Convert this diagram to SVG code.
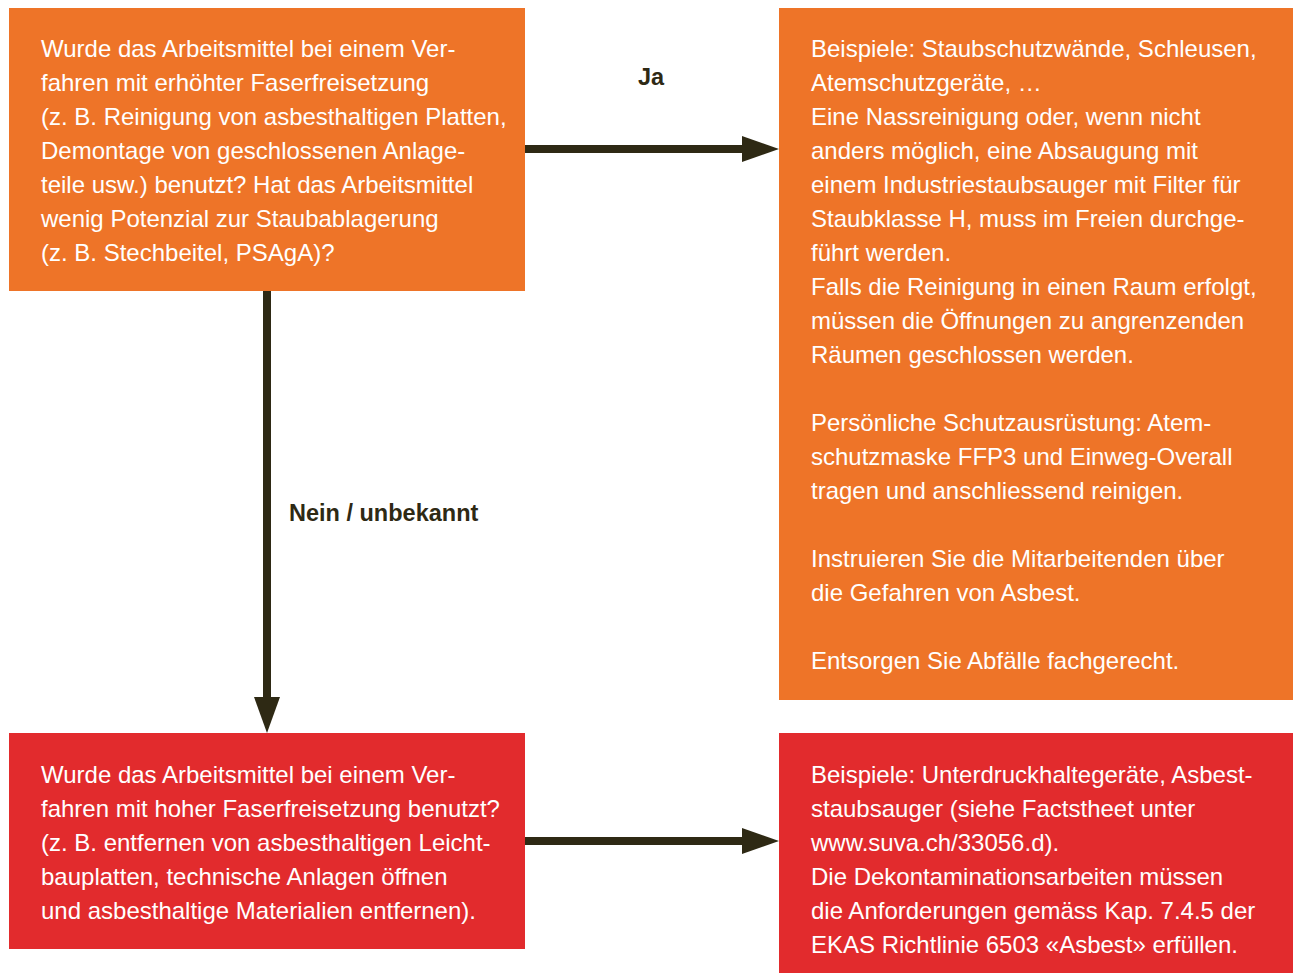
<svg xmlns="http://www.w3.org/2000/svg" width="1293" height="973" viewBox="0 0 1293 973">
<defs>
<style>
.box-o{fill:#EE7428}
.box-r{fill:#E22B2D}
.t{font-family:"Liberation Sans",Arial,sans-serif;font-size:24px;fill:#ffffff}
.lbl{font-family:"Liberation Sans",Arial,sans-serif;font-size:23.5px;font-weight:bold;fill:#2E2914}
.conn{stroke:#2E2914;stroke-width:8;fill:none}
.head{fill:#2E2914}
</style>
</defs>
<rect width="1293" height="973" fill="#ffffff"/>
<g id="connectors">
<line class="conn" x1="525" y1="149" x2="745" y2="149"/>
<polygon class="head" points="742,136 779,149 742,162"/>
<line class="conn" x1="267" y1="291" x2="267" y2="700"/>
<polygon class="head" points="254,697 280,697 267,733"/>
<line class="conn" x1="525" y1="841" x2="745" y2="841"/>
<polygon class="head" points="742,828 779,841 742,854"/>
<text class="lbl" x="651" y="85" text-anchor="middle">Ja</text>
<text class="lbl" x="289" y="521">Nein / unbekannt</text>
</g>
<g id="q1">
<rect class="box-o" x="9" y="8" width="516" height="283"/>
<text class="t">
<tspan x="41" y="56.5">Wurde das Arbeitsmittel bei einem Ver-</tspan>
<tspan x="41" y="90.5">fahren mit erhöhter Faserfreisetzung</tspan>
<tspan x="41" y="124.5">(z. B. Reinigung von asbesthaltigen Platten,</tspan>
<tspan x="41" y="158.5">Demontage von geschlossenen Anlage-</tspan>
<tspan x="41" y="192.5">teile usw.) benutzt? Hat das Arbeitsmittel</tspan>
<tspan x="41" y="226.5">wenig Potenzial zur Staubablagerung</tspan>
<tspan x="41" y="260.5">(z. B. Stechbeitel, PSAgA)?</tspan>
</text>
</g>
<g id="a1">
<rect class="box-o" x="779" y="8" width="514" height="692"/>
<text class="t">
<tspan x="811" y="56.5">Beispiele: Staubschutzwände, Schleusen,</tspan>
<tspan x="811" y="90.5">Atemschutzgeräte, …</tspan>
<tspan x="811" y="124.5">Eine Nassreinigung oder, wenn nicht</tspan>
<tspan x="811" y="158.5">anders möglich, eine Absaugung mit</tspan>
<tspan x="811" y="192.5">einem Industriestaubsauger mit Filter für</tspan>
<tspan x="811" y="226.5">Staubklasse H, muss im Freien durchge-</tspan>
<tspan x="811" y="260.5">führt werden.</tspan>
<tspan x="811" y="294.5">Falls die Reinigung in einen Raum erfolgt,</tspan>
<tspan x="811" y="328.5">müssen die Öffnungen zu angrenzenden</tspan>
<tspan x="811" y="362.5">Räumen geschlossen werden.</tspan>
<tspan x="811" y="430.5">Persönliche Schutzausrüstung: Atem-</tspan>
<tspan x="811" y="464.5">schutzmaske FFP3 und Einweg-Overall</tspan>
<tspan x="811" y="498.5">tragen und anschliessend reinigen.</tspan>
<tspan x="811" y="566.5">Instruieren Sie die Mitarbeitenden über</tspan>
<tspan x="811" y="600.5">die Gefahren von Asbest.</tspan>
<tspan x="811" y="668.5">Entsorgen Sie Abfälle fachgerecht.</tspan>
</text>
</g>
<g id="q2">
<rect class="box-r" x="9" y="733" width="516" height="216"/>
<text class="t">
<tspan x="41" y="782.5">Wurde das Arbeitsmittel bei einem Ver-</tspan>
<tspan x="41" y="816.5">fahren mit hoher Faserfreisetzung benutzt?</tspan>
<tspan x="41" y="850.5">(z. B. entfernen von asbesthaltigen Leicht-</tspan>
<tspan x="41" y="884.5">bauplatten, technische Anlagen öffnen</tspan>
<tspan x="41" y="918.5">und asbesthaltige Materialien entfernen).</tspan>
</text>
</g>
<g id="a2">
<rect class="box-r" x="779" y="733" width="514" height="240"/>
<text class="t">
<tspan x="811" y="782.5">Beispiele: Unterdruckhaltegeräte, Asbest-</tspan>
<tspan x="811" y="816.5">staubsauger (siehe Factstheet unter</tspan>
<tspan x="811" y="850.5">www.suva.ch/33056.d).</tspan>
<tspan x="811" y="884.5">Die Dekontaminationsarbeiten müssen</tspan>
<tspan x="811" y="918.5">die Anforderungen gemäss Kap. 7.4.5 der</tspan>
<tspan x="811" y="952.5">EKAS Richtlinie 6503 «Asbest» erfüllen.</tspan>
</text>
</g>
</svg>
